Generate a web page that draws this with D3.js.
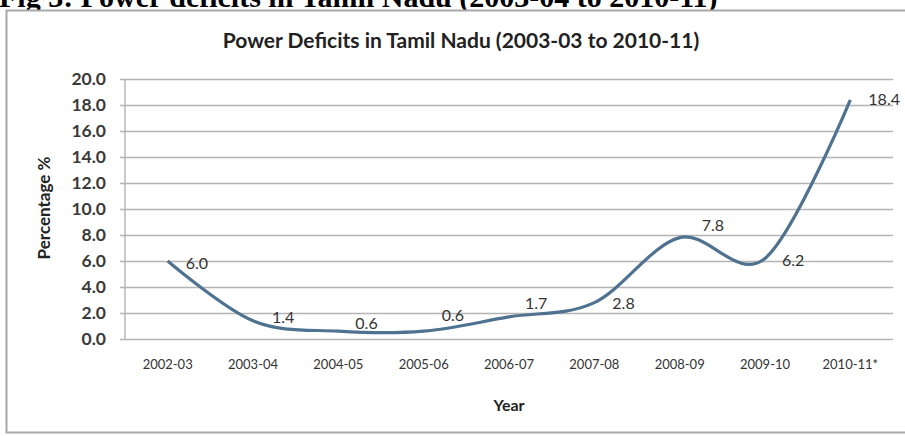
<!DOCTYPE html>
<html><head><meta charset="utf-8">
<script src="https://cdn.jsdelivr.net/npm/d3@7"></script>
<style>body{margin:0;background:#fff;}svg{display:block;}</style>
</head><body>
<svg id="c" width="905" height="436"></svg>
<script>
const categories = ["2002-03","2003-04","2004-05","2005-06","2006-07","2007-08","2008-09","2009-10","2010-11*"];
const deficits = [6.0, 1.4, 0.6, 0.6, 1.7, 2.8, 7.8, 6.2, 18.4];
const yTicks = [0,2,4,6,8,10,12,14,16,18,20];
const figCaption = "Fig 3: Power deficits in Tamil Nadu (2003-04 to 2010-11)";
const chartTitle = "Power Deficits in Tamil Nadu (2003-03 to 2010-11)";
const yTitle = "Percentage %";
const xTitle = "Year";

(function () {
const svg = d3.select("#c");
const font = "Lato, 'Open Sans', sans-serif";
const pLeft = 125, pRight = 893, pTop = 79, pBottom = 339;

// caption (cut at the top edge, as in the source)
svg.append("text").attr("x", -1).attr("y", 7)
  .attr("font-family", "'Liberation Serif', 'Times New Roman', serif")
  .attr("font-weight", "bold").attr("font-size", 30).attr("fill", "#000")
  .text(figCaption);

// frame
svg.append("rect").attr("x", 6.5).attr("y", 10.5).attr("width", 930).attr("height", 422)
  .attr("fill", "#fff").attr("stroke", "#a8a8a8").attr("stroke-width", 2);

const x = d3.scaleBand().domain(categories).range([pLeft, pRight]);
const y = d3.scaleLinear().domain([0, 20]).range([pBottom, pTop]);

// grid + y axis
const yAxis = d3.axisLeft(y).tickValues(yTicks).tickFormat(d3.format(".1f"))
  .tickSize(-(pRight - pLeft)).tickPadding(19);
const gy = svg.append("g").attr("transform", `translate(${pLeft},0)`).call(yAxis);
gy.select(".domain").remove();
gy.selectAll(".tick line").attr("stroke", "#b4b4b4").attr("stroke-width", 1.4).attr("x1", -5);
gy.selectAll(".tick text").attr("font-family", font).attr("font-size", 17.5)
  .attr("fill", "#3a3a3a").attr("font-weight", 700);
svg.append("line").attr("x1", pLeft).attr("x2", pLeft).attr("y1", pTop).attr("y2", pBottom)
  .attr("stroke", "#b4b4b4").attr("stroke-width", 1.4);

// x axis labels
const xAxis = d3.axisBottom(x).tickSize(0).tickPadding(21);
const gx = svg.append("g").attr("transform", `translate(0,${pBottom})`).call(xAxis);
gx.select(".domain").remove();
gx.selectAll(".tick text").attr("font-family", font).attr("font-size", 13).attr("fill", "#333");

// line
const line = d3.line()
  .x((d, i) => x(categories[i]) + x.bandwidth() / 2)
  .y(d => y(d))
  .curve(d3.curveCardinal.tension(0));
svg.append("path").datum(deficits).attr("d", line)
  .attr("fill", "none").attr("stroke", "#4e7290").attr("stroke-width", 3.2);

// data labels (nudges mimic manually placed labels)
const nudge = [[18,2],[19,-3],[17,-8],[18,-16],[16,-14],[18,1],[22,-12],[17,2],[18,0]];
svg.append("g").selectAll("text").data(deficits).join("text")
  .attr("x", (d, i) => x(categories[i]) + x.bandwidth() / 2 + nudge[i][0])
  .attr("y", (d, i) => y(d) + nudge[i][1])
  .attr("dy", "0.35em")
  .attr("font-family", font).attr("font-size", 16).attr("fill", "#333")
  .text(d => d3.format(".1f")(d));

// titles
svg.append("text").attr("x", 461).attr("y", 48).attr("text-anchor", "middle")
  .attr("font-family", font).attr("font-weight", "bold").attr("font-size", 21).attr("fill", "#222")
  .text(chartTitle);
svg.append("text").attr("transform", "translate(50,208) rotate(-90)").attr("text-anchor", "middle")
  .attr("font-family", font).attr("font-weight", "bold").attr("font-size", 17).attr("fill", "#222")
  .text(yTitle);
svg.append("text").attr("x", 509).attr("y", 411).attr("text-anchor", "middle")
  .attr("font-family", font).attr("font-weight", "bold").attr("font-size", 16).attr("fill", "#222")
  .text(xTitle);
})();
</script>
</body></html>
